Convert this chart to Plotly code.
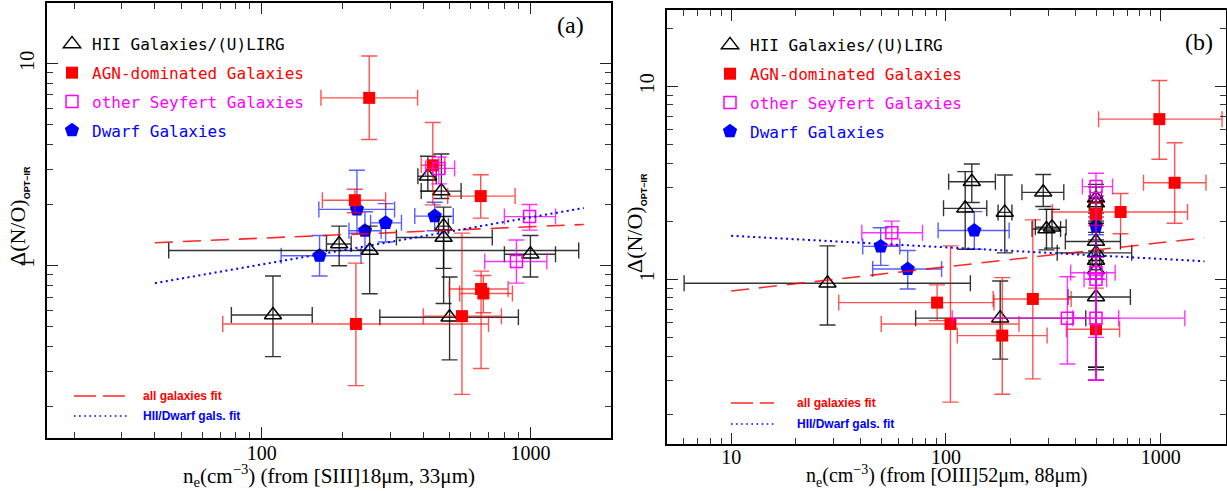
import plotly.graph_objects as go

# ================= Panel (a): ne from [SIII]18um,33um =================
a_hii_ne    = [110, 194, 252, 1000, 500, 415, 466, 475, 475]
a_hii_r     = [0.57, 1.28, 1.19, 1.14, 0.556, 2.77, 2.34, 1.57, 1.38]
a_hii_ne_lo = [77, 174, 45, 800, 275, 381, 392, 455, 317]
a_hii_ne_hi = [154, 215, 1513, 1240, 902, 446, 552, 495, 721]
a_hii_r_lo  = [0.355, 1.0, 0.726, 0.88, 0.342, 2.34, 2.15, 0.97, 0.65]
a_hii_r_hi  = [0.89, 1.57, 1.57, 1.41, 0.88, 3.48, 3.57, 1.95, 1.75]

a_agn_ne    = [251, 222, 224, 433, 653, 655, 668, 556]
a_agn_r     = [6.77, 2.11, 0.515, 3.14, 2.21, 0.767, 0.729, 0.563]
a_agn_ne_lo = [166, 168, 71.5, 392, 492, 499, 545, 399]
a_agn_ne_hi = [380, 289, 698, 480, 877, 826, 857, 780]
a_agn_r_lo  = [4.21, 1.83, 0.255, 2.0, 1.72, 0.31, 0.585, 0.231]
a_agn_r_hi  = [10.9, 2.39, 1.03, 5.11, 2.82, 0.94, 0.895, 1.45]

a_sey_ne    = [456, 993, 887]
a_sey_r     = [3.03, 1.75, 1.05]
a_sey_ne_lo = [407, 800, 676]
a_sey_ne_hi = [522, 1240, 1151]
a_sey_r_lo  = [2.54, 1.50, 0.82]
a_sey_r_hi  = [3.45, 2.01, 1.34]

a_dw_ne     = [164, 226, 242, 289, 440]
a_dw_r      = [1.12, 1.90, 1.49, 1.63, 1.76]
a_dw_ne_lo  = [118, 163, 211, 254, 371]
a_dw_ne_hi  = [234, 312, 278, 331, 516]
a_dw_r_lo   = [0.89, 1.45, 1.20, 1.31, 1.49]
a_dw_r_hi   = [1.41, 2.97, 1.85, 2.03, 2.06]

a_fit_ne    = [40, 1580]
a_fit_all   = [1.30, 1.60]
a_fit_hiidw = [0.82, 1.93]

# ================= Panel (b): ne from [OIII]52um,88um =================
b_hii_ne    = [28.1, 132, 123, 188, 284, 294, 312, 179, 500, 500, 500, 500, 500, 500, 500]
b_hii_r     = [0.953, 3.20, 2.33, 2.22, 2.82, 1.82, 1.86, 0.629, 2.63, 2.48, 1.57, 1.37, 1.25, 1.12, 0.81]
b_hii_ne_lo = [6.04, 103, 97.5, 175, 226, 252, 261, 72.3, 470, 465, 360, 330, 480, 470, 370]
b_hii_ne_hi = [130, 170, 155, 203, 354, 342, 363, 448, 530, 535, 650, 733, 520, 530, 723]
b_hii_r_lo  = [0.58, 2.50, 1.43, 1.37, 2.38, 1.42, 1.45, 0.386, 2.2, 2.0, 1.25, 0.34, 0.30, 0.35, 0.35]
b_hii_r_hi  = [1.49, 3.95, 3.61, 3.47, 3.49, 2.30, 2.30, 0.98, 3.1, 3.0, 1.95, 1.75, 1.6, 1.4, 1.0]

b_agn_ne    = [986, 1162, 651, 500, 91, 105, 183, 254, 500]
b_agn_r     = [6.75, 3.16, 2.23, 2.18, 0.757, 0.587, 0.511, 0.791, 0.551]
b_agn_ne_lo = [514, 832, 313, 470, 31.7, 50, 113, 166, 364]
b_agn_ne_hi = [1932, 1626, 1334, 530, 167.5, 219, 296, 383, 644]
b_agn_r_lo  = [4.18, 1.95, 1.72, 1.9, 0.611, 0.231, 0.254, 0.305, 0.30]
b_agn_r_hi  = [10.7, 5.09, 2.78, 2.5, 0.935, 1.49, 1.02, 2.03, 0.90]

b_sey_ne    = [56, 500, 500, 500, 368, 500]
b_sey_r     = [1.74, 3.02, 1.08, 1.00, 0.629, 0.628]
b_sey_ne_lo = [40.6, 432, 381, 440, 107, 389]
b_sey_ne_hi = [77.8, 597, 614, 560, 1296, 638]
b_sey_r_lo  = [1.50, 2.60, 0.50, 0.30, 0.364, 0.30]
b_sey_r_hi  = [2.00, 3.54, 2.70, 1.30, 1.03, 1.05]

b_dw_ne     = [49.7, 66.4, 135.6, 500]
b_dw_r      = [1.48, 1.13, 1.79, 1.89]
b_dw_ne_lo  = [41, 45.6, 92, 480]
b_dw_ne_hi  = [61, 95.5, 197, 520]
b_dw_r_lo   = [1.18, 0.89, 1.43, 1.70]
b_dw_r_hi   = [1.85, 1.41, 2.24, 2.10]

b_fit_ne    = [10, 1600]
b_fit_all   = [0.870, 1.64]
b_fit_hiidw = [1.68, 1.24]

# labels
legend_names = ["HII Galaxies/(U)LIRG", "AGN-dominated Galaxies",
                "other Seyfert Galaxies", "Dwarf Galaxies"]
fit_names = ["all galaxies fit", "HII/Dwarf gals. fit"]
x_tick_vals_a = [100, 1000]
x_tick_vals_b = [10, 100, 1000]
y_tick_vals = [1, 10]

fig = go.Figure()

SERIF = "Liberation Serif"
MONO = "DejaVu Sans Mono"


def add_group(ne, r, ne_lo, ne_hi, r_lo, r_hi, name, symbol, mcolor, ecolor,
              size, xa, ya, leg, rank, fill_line=None):
    ex_p = [h - v for h, v in zip(ne_hi, ne)]
    ex_m = [v - l for v, l in zip(ne, ne_lo)]
    ey_p = [h - v for h, v in zip(r_hi, r)]
    ey_m = [v - l for v, l in zip(r, r_lo)]
    marker = dict(symbol=symbol, color=mcolor, size=size)
    if fill_line:
        marker["line"] = dict(color=mcolor, width=fill_line)
    else:
        marker["line"] = dict(width=0)
    fig.add_trace(go.Scatter(
        x=ne, y=r, mode="markers", xaxis=xa, yaxis=ya,
        name="<span style='color:%s'>%s</span>" % (mcolor, name),
        legend=leg, legendgroup=leg + name, legendrank=rank,
        marker=marker,
        error_x=dict(type="data", symmetric=False, array=ex_p, arrayminus=ex_m,
                     color=ecolor, thickness=1.4, width=8),
        error_y=dict(type="data", symmetric=False, array=ey_p, arrayminus=ey_m,
                     color=ecolor, thickness=1.4, width=8),
        cliponaxis=False,
    ))


def add_panel(xa, ya, leg, hii, agn, sey, dw, fit_ne, fit_all, fit_hd):
    add_group(*dw, legend_names[3], "pentagon", "#0000ff", "rgba(30,40,255,0.75)", 15, xa, ya, leg, 4)
    add_group(*hii, legend_names[0], "triangle-up-open", "#000000", "rgba(0,0,0,0.8)", 15, xa, ya, leg, 1, fill_line=1.5)
    add_group(*agn, legend_names[1], "square", "#ff0000", "rgba(255,0,0,0.68)", 12, xa, ya, leg, 2)
    add_group(*sey, legend_names[2], "square-open", "#ff00ff", "rgba(255,0,255,0.8)", 12, xa, ya, leg, 3, fill_line=1.5)
    fig.add_trace(go.Scatter(x=fit_ne, y=fit_all, mode="lines", xaxis=xa, yaxis=ya,
                             line=dict(color="rgba(255,0,0,0.85)", width=1.6, dash="18px,10px"),
                             showlegend=False, hoverinfo="skip"))
    fig.add_trace(go.Scatter(x=fit_ne, y=fit_hd, mode="lines", xaxis=xa, yaxis=ya,
                             line=dict(color="#0000ff", width=2, dash="2px,3.5px"),
                             showlegend=False, hoverinfo="skip"))


add_panel("x", "y", "legend",
          (a_hii_ne, a_hii_r, a_hii_ne_lo, a_hii_ne_hi, a_hii_r_lo, a_hii_r_hi),
          (a_agn_ne, a_agn_r, a_agn_ne_lo, a_agn_ne_hi, a_agn_r_lo, a_agn_r_hi),
          (a_sey_ne, a_sey_r, a_sey_ne_lo, a_sey_ne_hi, a_sey_r_lo, a_sey_r_hi),
          (a_dw_ne, a_dw_r, a_dw_ne_lo, a_dw_ne_hi, a_dw_r_lo, a_dw_r_hi),
          a_fit_ne, a_fit_all, a_fit_hiidw)
add_panel("x2", "y2", "legend2",
          (b_hii_ne, b_hii_r, b_hii_ne_lo, b_hii_ne_hi, b_hii_r_lo, b_hii_r_hi),
          (b_agn_ne, b_agn_r, b_agn_ne_lo, b_agn_ne_hi, b_agn_r_lo, b_agn_r_hi),
          (b_sey_ne, b_sey_r, b_sey_ne_lo, b_sey_ne_hi, b_sey_r_lo, b_sey_r_hi),
          (b_dw_ne, b_dw_r, b_dw_ne_lo, b_dw_ne_hi, b_dw_r_lo, b_dw_r_hi),
          b_fit_ne, b_fit_all, b_fit_hiidw)

W, H = 1227, 491


def px_x(p):
    return p / W


def px_y(p):
    return 1 - p / H


def axis(rng, dom, tickvals, minorvals, anchor, angle=0, standoff=0):
    return dict(type="log", range=rng, domain=dom, anchor=anchor,
                tickmode="array", tickvals=tickvals, ticktext=[str(v) for v in tickvals],
                ticks="inside", ticklen=11, tickwidth=1.3, tickcolor="#222",
                showline=True, linewidth=2, linecolor="black", mirror="allticks",
                showgrid=False, zeroline=False, tickangle=angle,
                ticklabelstandoff=standoff,
                tickfont=dict(family=SERIF, size=20, color="black"),
                minor=dict(tickmode="array", tickvals=minorvals, ticks="inside",
                           ticklen=6, tickwidth=1.2, tickcolor="#333", showgrid=False))


minor_x = [6, 7, 8, 9, 20, 30, 40, 50, 60, 70, 80, 90, 200, 300, 400, 500, 600, 700, 800, 900]
minor_y = [0.2, 0.3, 0.4, 0.5, 0.6, 0.7, 0.8, 0.9, 2, 3, 4, 5, 6, 7, 8, 9, 20]

fig.update_layout(
    width=W, height=H, margin=dict(l=0, r=0, t=0, b=0),
    paper_bgcolor="white", plot_bgcolor="white", showlegend=True,
    xaxis=axis([1.2, 3.3], [px_x(47), px_x(611)], x_tick_vals_a, minor_x, "y", standoff=-4),
    yaxis=axis([-0.85, 1.30], [px_y(437.5), px_y(3)], y_tick_vals, minor_y, "x", -90, standoff=3),
    xaxis2=axis([0.699, 3.302], [px_x(666.5), px_x(1225.5)], x_tick_vals_b, minor_x, "y2", standoff=-6),
    yaxis2=axis([-0.853, 1.397], [px_y(444), px_y(9.5)], y_tick_vals, minor_y, "x2", -90, standoff=3),
    legend=dict(x=px_x(52), y=px_y(27), xanchor="left", yanchor="top",
                bgcolor="rgba(0,0,0,0)", font=dict(family=MONO, size=16, color="black"),
                tracegroupgap=5, itemclick=False),
    legend2=dict(x=px_x(710), y=px_y(28), xanchor="left", yanchor="top",
                 bgcolor="rgba(0,0,0,0)", font=dict(family=MONO, size=16, color="black"),
                 tracegroupgap=5, itemclick=False),
)

annotations = []
shapes = []


def ann(text, x, y, size, family=SERIF, color="black", angle=0, xanchor="center"):
    annotations.append(dict(text=text, x=px_x(x), y=px_y(y), xref="paper", yref="paper",
                            xanchor=xanchor, yanchor="middle", showarrow=False,
                            textangle=angle, font=dict(family=family, size=size, color=color)))


# panel labels
ann("(a)", 570, 25, 24)
ann("(b)", 1199, 42, 24)
# axis titles
ann("n<sub>e</sub>(cm<sup>−3</sup>) (from [SIII]18μm, 33μm)", 329, 475, 21)
ann("n<sub>e</sub>(cm<sup>−3</sup>) (from [OIII]52μm, 88μm)", 946, 476, 20)
ytitle = ("Δ(N/O)<sub><span style='font-family:Liberation Sans;font-size:9px'>"
          "<b>OPT−IR</b></span></sub>")
ann(ytitle, 18, 216, 22, angle=-90)
ann(ytitle, 635, 223, 22, angle=-90)

# fit-line keys (bottom-left of each panel)
for (x0, x1, xt, y1, y2) in [(74, 127, 141, 396, 416), (731, 774, 795, 403, 424)]:
    shapes.append(dict(type="line", xref="paper", yref="paper", x0=px_x(x0), x1=px_x(x1),
                       y0=px_y(y1), y1=px_y(y1),
                       line=dict(color="rgba(255,0,0,0.85)", width=1.6, dash="22px,7px")))
    shapes.append(dict(type="line", xref="paper", yref="paper", x0=px_x(x0), x1=px_x(x1),
                       y0=px_y(y2), y1=px_y(y2),
                       line=dict(color="#0000ff", width=1.6, dash="1.6px,3.5px")))
    ann("<b>%s</b>" % fit_names[0], xt, y1, 12, family="Liberation Sans",
        color="#ff0000", xanchor="left")
    ann("<b>%s</b>" % fit_names[1], xt, y2, 12, family="Liberation Sans",
        color="#0000ff", xanchor="left")

fig.update_layout(annotations=annotations, shapes=shapes)
fig.write_html("out.html", config={"displayModeBar": False},
               post_script="document.body.style.margin='0px';")
